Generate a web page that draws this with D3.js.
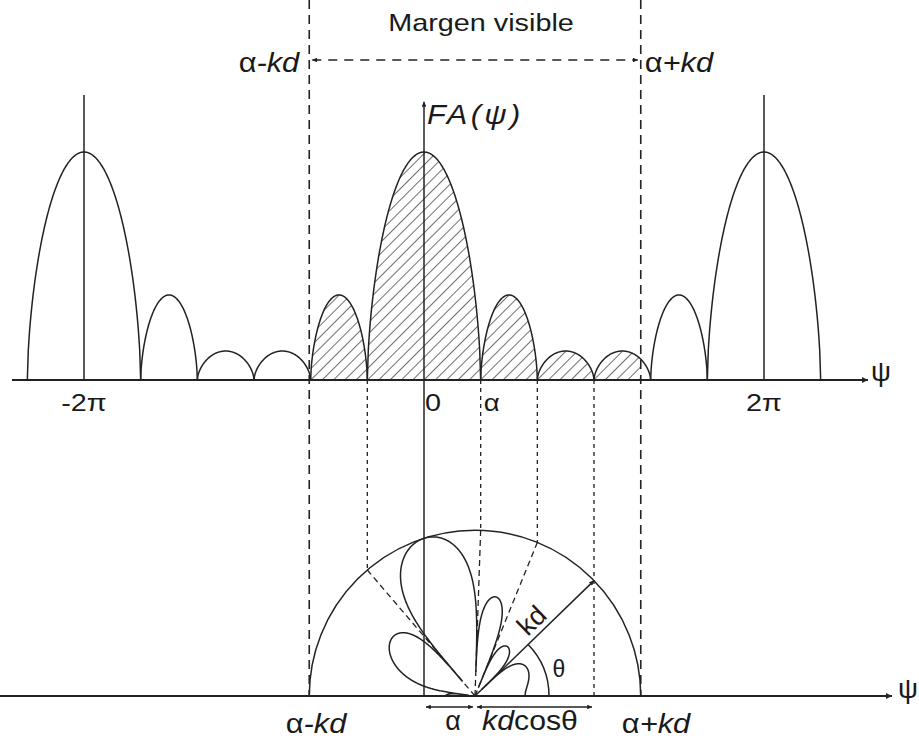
<!DOCTYPE html>
<html>
<head>
<meta charset="utf-8">
<script src="https://cdn.jsdelivr.net/npm/d3@7"></script>
<style>
  body { margin: 0; background: #fff; }
  text { font-family: "Liberation Sans", Arial, sans-serif; fill: #1a1a1a; }
</style>
</head>
<body>
<div id="chart"></div>
<script>
// psi is expressed in units of pi
const psiNulls = [-7/3, -5/3, -4/3, -1, -2/3, -1/3, 1/3, 2/3, 1, 4/3, 5/3, 7/3];
const lobePeaks = [1, 0.373, 0.127, 0.127, 0.373, 1, 0.373, 0.127, 0.127, 0.373, 1];
const alpha = 0.3;
const kd = 0.975;
const tickValues = [-2, 0, 2];
const tickLabels = ["-2π", "0", "2π"];
const projectedNulls = [-1/3, 1/3, 2/3];   // dotted + dashed radial construction
const kdNull = 1;                           // the one drawn with the kd arrow

const width = 919, height = 740;
const ink = "#222";

const svg = d3.select("#chart").append("svg")
  .attr("width", width).attr("height", height);

const defs = svg.append("defs");
defs.append("pattern").attr("id", "hatch")
  .attr("patternUnits", "userSpaceOnUse").attr("width", 8).attr("height", 8)
  .attr("patternTransform", "rotate(45)")
  .append("line").attr("x1", 0).attr("y1", 0).attr("x2", 0).attr("y2", 8)
  .attr("stroke", "#222").attr("stroke-width", 1.3);

const marker = (id, size) => defs.append("marker").attr("id", id)
  .attr("viewBox", "0 0 10 10").attr("refX", 10).attr("refY", 5)
  .attr("markerUnits", "userSpaceOnUse")
  .attr("markerWidth", size).attr("markerHeight", size * 0.6)
  .attr("orient", "auto-start-reverse")
  .append("path").attr("d", "M0,0L10,5L0,10z").attr("fill", ink);
marker("arr", 10);
marker("arrS", 8);

const xScale = d3.scaleLinear().domain([-2, 0]).range([84, 424]);
const yScale = d3.scaleLinear().domain([0, 1]).range([380, 152]);
const yBottom = 696;

// array factor shape from the lobe arrays
const lobeShape = function(psi) {
  const i = d3.bisectRight(psiNulls, psi) - 1;
  if (i < 0 || i >= lobePeaks.length) return 0;
  const mid = (psiNulls[i] + psiNulls[i + 1]) / 2, half = (psiNulls[i + 1] - psiNulls[i]) / 2;
  const u = (psi - mid) / half;
  return lobePeaks[i] * Math.pow(Math.max(0, 1 - u * u), 0.6);
};

const line = d3.line().x(d => xScale(d)).y(d => yScale(lobeShape(d)));
const lobes = d3.range(lobePeaks.length).map(i => {
  const a = psiNulls[i], b = psiNulls[i + 1];
  const pts = d3.range(0, 121).map(k => a + (b - a) * k / 120);
  pts[0] = a + 1e-6; pts[120] = b - 1e-6;
  return pts;
});

// hatched visible part
defs.append("clipPath").attr("id", "visible").append("rect")
  .attr("x", xScale(alpha - kd)).attr("y", 0)
  .attr("width", xScale(alpha + kd) - xScale(alpha - kd)).attr("height", yBottom);
svg.append("g").attr("clip-path", "url(#visible)")
  .selectAll("path").data(lobes).enter().append("path")
  .attr("d", d => line(d) + "Z").attr("fill", "url(#hatch)").attr("stroke", "none");

svg.append("g").selectAll("path").data(lobes).enter().append("path")
  .attr("d", line).attr("fill", "none").attr("stroke", ink).attr("stroke-width", 1.5);

// top psi axis
svg.append("line").attr("x1", 12).attr("x2", 868).attr("y1", yScale(0)).attr("y2", yScale(0))
  .attr("stroke", ink).attr("stroke-width", 1.8).attr("marker-end", "url(#arr)");
svg.selectAll(".grating").data([-2, 2]).enter().append("line")
  .attr("x1", d => xScale(d)).attr("x2", d => xScale(d))
  .attr("y1", yScale(1.25)).attr("y2", yScale(0))
  .attr("stroke", ink).attr("stroke-width", 1.5);
// FA axis runs down to the bottom axis
svg.append("line").attr("x1", xScale(0)).attr("x2", xScale(0))
  .attr("y1", yBottom).attr("y2", yScale(1.22))
  .attr("stroke", ink).attr("stroke-width", 1.5).attr("marker-end", "url(#arrS)");

// bottom psi axis
svg.append("line").attr("x1", 0).attr("x2", 892).attr("y1", yBottom).attr("y2", yBottom)
  .attr("stroke", ink).attr("stroke-width", 1.8).attr("marker-end", "url(#arr)");

// visible margin borders
svg.selectAll(".margin").data([alpha - kd, alpha + kd]).enter().append("line")
  .attr("x1", d => xScale(d)).attr("x2", d => xScale(d)).attr("y1", 0).attr("y2", yBottom)
  .attr("stroke", ink).attr("stroke-width", 1.6).attr("stroke-dasharray", "9,6");
svg.append("line").attr("x1", xScale(alpha - kd) + 3).attr("x2", xScale(alpha + kd) - 3)
  .attr("y1", 60).attr("y2", 60)
  .attr("stroke", ink).attr("stroke-width", 1.5).attr("stroke-dasharray", "9,7")
  .attr("marker-start", "url(#arrS)").attr("marker-end", "url(#arrS)");

// polar construction
const cx = xScale(alpha), R = xScale(alpha + kd) - xScale(alpha);
const polarPoint = (theta, r) => [cx + r * Math.cos(theta), yBottom - r * Math.sin(theta)];
const thetaOf = psi => Math.acos((psi - alpha) / kd);

svg.append("path")
  .attr("d", d3.arc()({ innerRadius: R, outerRadius: R, startAngle: -Math.PI / 2, endAngle: Math.PI / 2 }))
  .attr("transform", `translate(${cx},${yBottom})`)
  .attr("fill", "none").attr("stroke", ink).attr("stroke-width", 1.5);

const polarPts = d3.range(0, 1801).map(k => {
  const th = Math.PI * k / 1800;
  return polarPoint(th, R * Math.sqrt(lobeShape(alpha + kd * Math.cos(th))));
});
svg.append("path")
  .attr("d", d3.line()([[cx, yBottom], ...polarPts, [cx, yBottom]]))
  .attr("fill", "none").attr("stroke", ink).attr("stroke-width", 1.5);

projectedNulls.forEach(p => {
  const [px, py] = polarPoint(thetaOf(p), R);
  svg.append("line").attr("x1", xScale(p)).attr("x2", xScale(p))
    .attr("y1", yScale(0)).attr("y2", py)
    .attr("stroke", ink).attr("stroke-width", 1.3).attr("stroke-dasharray", "4,4");
  svg.append("line").attr("x1", cx).attr("y1", yBottom).attr("x2", px).attr("y2", py)
    .attr("stroke", ink).attr("stroke-width", 1.3).attr("stroke-dasharray", "6,4");
});

const thKd = thetaOf(kdNull);
const [kx, ky] = polarPoint(thKd, R);
svg.append("line").attr("x1", xScale(kdNull)).attr("x2", xScale(kdNull))
  .attr("y1", yScale(0)).attr("y2", yBottom)
  .attr("stroke", ink).attr("stroke-width", 1.3).attr("stroke-dasharray", "4,4");
svg.append("line").attr("x1", cx).attr("y1", yBottom).attr("x2", kx).attr("y2", ky)
  .attr("stroke", ink).attr("stroke-width", 1.5).attr("marker-end", "url(#arrS)");
svg.append("path")
  .attr("d", d3.arc()({ innerRadius: 74, outerRadius: 74, startAngle: Math.PI / 2 - thKd, endAngle: Math.PI / 2 }))
  .attr("transform", `translate(${cx},${yBottom})`)
  .attr("fill", "none").attr("stroke", ink).attr("stroke-width", 1.5);

// alpha and kd cos(theta) arrows
const yArr = 707;
[[0, alpha], [alpha, kdNull]].forEach(([a, b]) => {
  svg.append("line").attr("x1", xScale(a) + 2).attr("x2", xScale(b) - 2)
    .attr("y1", yArr).attr("y2", yArr)
    .attr("stroke", ink).attr("stroke-width", 1.3)
    .attr("marker-start", "url(#arrS)").attr("marker-end", "url(#arrS)");
});

// text
const label = function(x, y, parts, size, opts = {}) {
  const t = svg.append("text")
    .attr("transform", `translate(${x},${y}) rotate(${opts.rotate || 0}) scale(${opts.sx || 1},1)`)
    .attr("text-anchor", opts.anchor || "middle")
    .style("font-size", size + "px")
    .style("letter-spacing", opts.spacing ? opts.spacing + "px" : null);
  parts.forEach(p => t.append("tspan").text(p[0]).style("font-style", p[1] ? "italic" : null));
  return t;
};

tickValues.forEach((v, i) => {
  label(xScale(v) + (v === 0 ? 9 : 0), 411, [[tickLabels[i]]], 24, { sx: 1.2 });
});
label(xScale(1/3) + 3, 411, [["α"]], 24, { anchor: "start", sx: 1.15 });
label(871, 381, [["ψ"]], 28, { anchor: "start" });
label(898, 698, [["ψ"]], 28, { anchor: "start" });

label(481, 31, [["Margen visible"]], 24, { sx: 1.2 });
label(xScale(alpha - kd) - 10, 72, [["α"], ["-kd", true]], 28, { anchor: "end", sx: 1.1 });
label(xScale(alpha + kd) + 4, 72, [["α"], ["+kd", true]], 28, { anchor: "start", sx: 1.1 });
label(xScale(0) + 3, 124, [["FA", true], ["(ψ)", true]], 28, { anchor: "start", sx: 1.1, spacing: 3 });

label(316, 733, [["α"], ["-kd", true]], 28, { sx: 1.1 });
label(656, 733, [["α"], ["+kd", true]], 28, { sx: 1.1 });
label(453, 730, [["α"]], 27);
label(530, 730, [["kd", true], ["cosθ"]], 27, { sx: 1.12 });
label(559, 677, [["θ"]], 23);
label(538, 627, [["kd"]], 27, { rotate: -44 });
</script>
</body>
</html>
